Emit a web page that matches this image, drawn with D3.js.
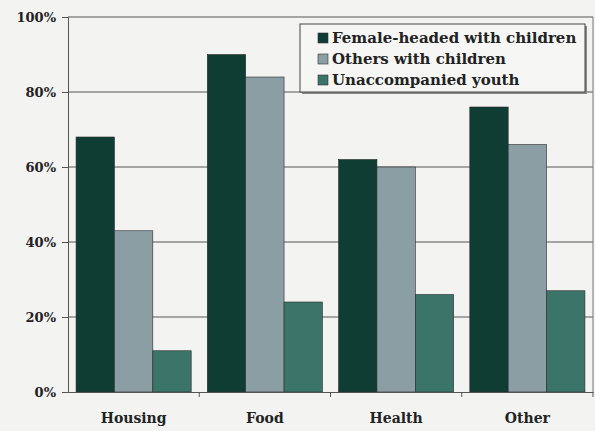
<!DOCTYPE html>
<html><head><meta charset="utf-8">
<script src="https://cdn.jsdelivr.net/npm/d3@7"></script>
<style>
html,body{margin:0;padding:0;background:#f3f4f2;}
svg{display:block;}
text{font-family:"DejaVu Serif",serif;font-weight:bold;fill:#222;}
</style></head><body>
<svg id="c" width="595" height="431"></svg>
<script>
const categories = ["Housing","Food","Health","Other"];
const seriesNames = ["Female-headed with children","Others with children","Unaccompanied youth"];
const femaleHeaded = [68, 90, 62, 76];
const othersWithChildren = [43, 84, 60, 66];
const unaccompaniedYouth = [11, 24, 26, 27];
const yTicks = [0, 20, 40, 60, 80, 100];
const colors = ["#0f3d34", "#8b9ea4", "#3b7468"];

const series = [femaleHeaded, othersWithChildren, unaccompaniedYouth];
const svg = d3.select("#c");
const m = {l:68, r:593, t:17, b:392};

const x = d3.scaleBand().domain(categories).range([m.l, m.r]).paddingInner(0).paddingOuter(0);
const x1 = d3.scaleBand().domain(d3.range(3)).range([0, x.bandwidth()]).paddingInner(0).paddingOuter(0.21);
const y = d3.scaleLinear().domain([0,100]).range([m.b, m.t]);

// gridlines
svg.append("g").selectAll("line").data(yTicks.filter(d=>d>0)).join("line")
  .attr("x1", m.l).attr("x2", m.r).attr("y1", d=>y(d)).attr("y2", d=>y(d))
  .attr("stroke", "#555").attr("stroke-width", 1);

// bars
const g = svg.append("g");
categories.forEach((c, ci) => {
  series.forEach((s, si) => {
    g.append("rect")
      .attr("x", x(c) + x1(si))
      .attr("y", y(s[ci]))
      .attr("width", x1.bandwidth())
      .attr("height", y(0) - y(s[ci]))
      .attr("fill", colors[si])
      .attr("stroke", "#2a2a2a").attr("stroke-width", 0.6);
  });
});

// right frame
svg.append("line").attr("x1", m.r).attr("x2", m.r).attr("y1", m.t).attr("y2", m.b)
  .attr("stroke", "#777").attr("stroke-width", 1);

// y axis
const yAxis = d3.axisLeft(y).tickValues(yTicks).tickFormat(d=>d+"%").tickSize(6).tickPadding(6);
const ya = svg.append("g").attr("transform", `translate(${m.l},0)`).call(yAxis);
ya.selectAll("text").style("font-size","13px").attr("fill","#1e1e1e");
ya.selectAll("line,path").attr("stroke","#555");

// x axis
const xAxis = d3.axisBottom(x).tickSize(0).tickPadding(21);
const xa = svg.append("g").attr("transform", `translate(0,${m.b})`).call(xAxis);
xa.selectAll("text").style("font-size","14px").attr("fill","#1e1e1e");
xa.select("path").attr("stroke","#555");
xa.append("g").selectAll("line").data(categories.slice(1).concat(["__end"])).join("line")
  .attr("x1", d => d==="__end" ? m.r : x(d)).attr("x2", d => d==="__end" ? m.r : x(d))
  .attr("y1", 0).attr("y2", 5).attr("stroke","#555");

// legend
const lg = svg.append("g").attr("transform","translate(300,24)");
lg.append("rect").attr("x",2).attr("y",2).attr("width",285).attr("height",68).attr("fill","#888");
lg.append("rect").attr("width",285).attr("height",68).attr("fill","#f6f7f5").attr("stroke","#444").attr("stroke-width",1);
seriesNames.forEach((n,i)=>{
  lg.append("rect").attr("x",18).attr("y",9+i*21).attr("width",10).attr("height",10)
    .attr("fill",colors[i]).attr("stroke","#333").attr("stroke-width",0.6);
  lg.append("text").attr("x",32).attr("y",19+i*21).text(n).style("font-size","15px").attr("fill","#161616");
});
</script>
</body></html>
